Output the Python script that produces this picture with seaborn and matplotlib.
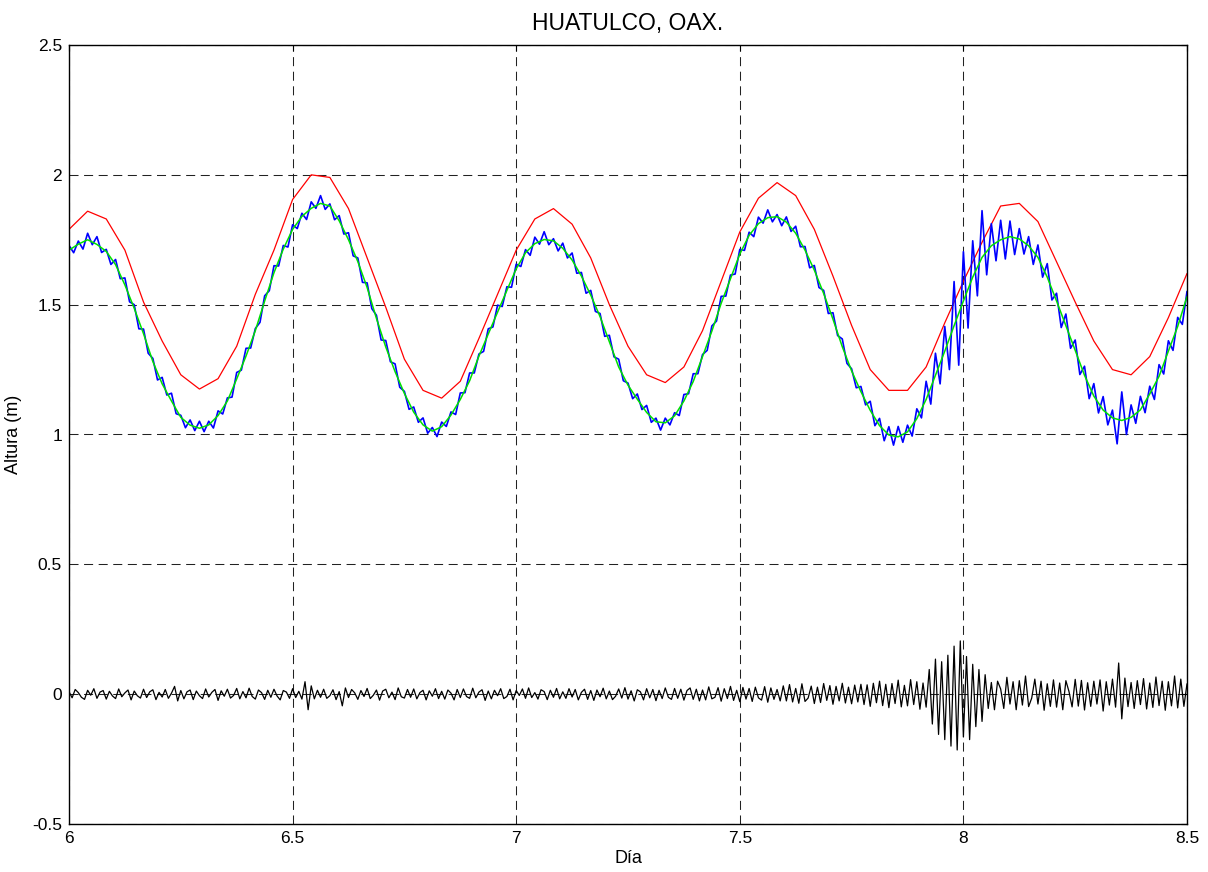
import numpy as np
import matplotlib
matplotlib.use("Agg")
import matplotlib.pyplot as plt
import seaborn as sns
from matplotlib.ticker import FuncFormatter, MultipleLocator

# marea prevista (roja), un valor por hora desde el dia 6.0 hasta el 8.5
prevista = [1.79, 1.86, 1.83, 1.71, 1.51, 1.36, 1.23, 1.175, 1.215, 1.34,
            1.54, 1.71, 1.905, 2.00, 1.99, 1.87, 1.68, 1.49, 1.29, 1.17,
            1.14, 1.205, 1.37, 1.54, 1.71, 1.83, 1.87, 1.81, 1.68, 1.50,
            1.34, 1.23, 1.20, 1.26, 1.40, 1.59, 1.78, 1.91, 1.97, 1.92,
            1.79, 1.61, 1.42, 1.25, 1.17, 1.17, 1.26, 1.43, 1.59, 1.74,
            1.88, 1.89, 1.82, 1.665, 1.51, 1.36, 1.25, 1.23, 1.30, 1.45, 1.62]

# nivel filtrado (verde), cada media hora
filtrada = [1.71, 1.733, 1.75, 1.732, 1.705, 1.654, 1.576, 1.486, 1.388, 1.281,
            1.195, 1.129, 1.066, 1.036, 1.024, 1.037, 1.073, 1.129, 1.214, 1.302,
            1.40, 1.514, 1.623, 1.714, 1.79, 1.84, 1.871, 1.89, 1.88, 1.823,
            1.75, 1.666, 1.566, 1.447, 1.337, 1.242, 1.158, 1.086, 1.037, 1.013,
            1.03, 1.075, 1.135, 1.207, 1.302, 1.387, 1.471, 1.555, 1.638, 1.70,
            1.735, 1.751, 1.746, 1.717, 1.672, 1.61, 1.537, 1.454, 1.357, 1.26,
            1.19, 1.136, 1.085, 1.049, 1.045, 1.072, 1.129, 1.204, 1.30, 1.398,
            1.505, 1.60, 1.695, 1.767, 1.812, 1.835, 1.839, 1.818, 1.775, 1.71,
            1.633, 1.543, 1.444, 1.338, 1.245, 1.165, 1.093, 1.034, 0.998, 0.991,
            1.01, 1.061, 1.135, 1.228, 1.321, 1.419, 1.514, 1.606, 1.682, 1.727,
            1.75, 1.762, 1.753, 1.727, 1.682, 1.606, 1.514, 1.419, 1.324, 1.228,
            1.148, 1.094, 1.064, 1.054, 1.066, 1.095, 1.156, 1.224, 1.321, 1.416,
            1.531]

# nivel observado (azul), cada 15 minutos
observada = [1.728, 1.700, 1.745, 1.714, 1.775, 1.731, 1.762, 1.701, 1.713, 1.655,
             1.674, 1.600, 1.603, 1.511, 1.500, 1.407, 1.406, 1.313, 1.293, 1.210,
             1.220, 1.152, 1.159, 1.080, 1.074, 1.026, 1.056, 1.015, 1.051, 1.011,
             1.051, 1.025, 1.091, 1.079, 1.141, 1.144, 1.239, 1.248, 1.332, 1.333,
             1.408, 1.432, 1.534, 1.554, 1.650, 1.649, 1.728, 1.722, 1.808, 1.793,
             1.852, 1.828, 1.896, 1.871, 1.920, 1.867, 1.888, 1.827, 1.843, 1.772,
             1.777, 1.688, 1.680, 1.586, 1.584, 1.485, 1.459, 1.364, 1.362, 1.280,
             1.272, 1.182, 1.166, 1.097, 1.106, 1.047, 1.064, 1.005, 1.027, 0.992,
             1.048, 1.031, 1.087, 1.077, 1.160, 1.161, 1.237, 1.237, 1.310, 1.320,
             1.407, 1.414, 1.498, 1.493, 1.569, 1.567, 1.656, 1.647, 1.712, 1.690,
             1.760, 1.733, 1.781, 1.731, 1.754, 1.707, 1.737, 1.680, 1.699, 1.621,
             1.624, 1.544, 1.555, 1.474, 1.466, 1.378, 1.382, 1.299, 1.290, 1.207,
             1.198, 1.138, 1.156, 1.096, 1.112, 1.047, 1.063, 1.017, 1.063, 1.037,
             1.084, 1.073, 1.154, 1.157, 1.234, 1.234, 1.308, 1.324, 1.418, 1.437,
             1.532, 1.533, 1.614, 1.618, 1.713, 1.709, 1.779, 1.762, 1.837, 1.814,
             1.865, 1.819, 1.847, 1.804, 1.838, 1.782, 1.802, 1.723, 1.724, 1.642,
             1.651, 1.566, 1.555, 1.466, 1.469, 1.381, 1.368, 1.274, 1.253, 1.180,
             1.185, 1.114, 1.128, 1.034, 1.062, 0.976, 1.030, 0.959, 1.031, 0.970,
             1.036, 0.994, 1.099, 1.064, 1.205, 1.117, 1.313, 1.195, 1.416, 1.250,
             1.589, 1.267, 1.704, 1.410, 1.746, 1.534, 1.862, 1.615, 1.812, 1.669,
             1.825, 1.676, 1.822, 1.693, 1.793, 1.695, 1.762, 1.655, 1.730, 1.606,
             1.658, 1.518, 1.544, 1.412, 1.464, 1.332, 1.364, 1.231, 1.263, 1.138,
             1.196, 1.083, 1.146, 1.037, 1.094, 0.964, 1.164, 1.000, 1.114, 1.043,
             1.147, 1.084, 1.186, 1.135, 1.269, 1.233, 1.361, 1.324, 1.451, 1.424,
             1.551]

# residuo (negro), cada 10 minutos
residuo = [0.010, -0.014, 0.018, 0.006, -0.012, -0.020, 0.015, -0.004, 0.021, -0.016,
           0.008, 0.014, -0.019, 0.011, -0.007, -0.017, 0.020, -0.010, 0.005, 0.016,
           -0.022, 0.012, -0.006, -0.015, 0.019, -0.013, 0.009, 0.017, -0.021, 0.007,
           -0.011, 0.018, -0.016, 0.004, 0.030, -0.026,
           0.014, -0.018, 0.009, 0.016, -0.021, 0.012, -0.006, -0.017, 0.020, -0.011,
           0.007, 0.018, -0.024, 0.013, -0.008, 0.019, -0.015, -0.005, 0.022, -0.018,
           0.010, -0.014, 0.023, -0.009, -0.019, 0.016, 0.006, -0.020, 0.015, -0.012,
           0.019, -0.007, -0.022, 0.014, 0.008, -0.016, 0.021, -0.013, 0.011, -0.019,
           0.048, -0.060, 0.032, -0.018,
           0.015, -0.012, 0.019, -0.016, -0.006, 0.017, -0.021, 0.010, -0.045, 0.024,
           -0.013, 0.018, 0.005, -0.020, 0.014, -0.009, 0.022, -0.017, -0.004, 0.016,
           -0.023, 0.012, 0.019, -0.014, 0.008, -0.021, 0.024, -0.010, -0.015, 0.018,
           -0.012, 0.020, -0.018, 0.006, 0.015, -0.022, 0.013, -0.008, 0.021, -0.017,
           0.011, -0.019, 0.016, 0.004, -0.022, 0.018, -0.013, 0.020, -0.009, -0.016,
           0.023, -0.014, 0.008, 0.017, -0.024, 0.012, -0.018, 0.015, -0.006, 0.021,
           -0.017, -0.009, 0.019, -0.022, 0.014, -0.005, 0.020, -0.016, 0.024, -0.013,
           0.006, -0.019, 0.017, 0.010, -0.021, 0.015, -0.012, 0.022, -0.018, 0.009,
           -0.016, 0.021, -0.011, 0.018, -0.022, 0.007, 0.019, -0.020, 0.014, -0.024,
           0.016, -0.010, 0.023, -0.018, 0.012, -0.021, -0.008, 0.020, -0.015, 0.025,
           -0.019, 0.013, -0.026, 0.017, 0.009, -0.022, 0.021, -0.014, 0.018, -0.025,
           0.015, -0.017, 0.024, -0.012, -0.020, 0.022, -0.016, 0.019, -0.023, 0.014,
           0.024, -0.020, 0.019, -0.026, 0.016, -0.022, 0.028, -0.018, -0.012, 0.025,
           -0.027, 0.021, -0.017, 0.030, -0.024, 0.015, -0.029, 0.026, -0.019, 0.022,
           -0.028, 0.027, -0.014, -0.023, 0.029, -0.031, 0.024, -0.020, 0.018, -0.026,
           0.032, -0.026, 0.037, -0.030, 0.022, -0.035, 0.040, -0.028, -0.015, 0.031,
           -0.036, 0.027, -0.032, 0.041, -0.024, 0.033, -0.039, 0.030, -0.026, 0.042,
           -0.034, 0.027, -0.037, 0.035, -0.030, 0.038,
           -0.040, 0.036, -0.047, 0.042, -0.033, 0.050, -0.044, 0.038, -0.052, 0.041,
           -0.036, 0.054, -0.049, 0.034, -0.045, 0.056, -0.040, 0.048, -0.058, 0.043, -0.050,
           0.095, -0.115, 0.135, -0.155, 0.125, -0.175, 0.150, -0.200, 0.185, -0.215, 0.205,
           -0.165, 0.145, -0.175, 0.115, -0.125, 0.095, -0.105, 0.075,
           -0.055, 0.045, -0.060, 0.050, 0.020, -0.055, 0.065, -0.038, 0.048, -0.060,
           0.052, -0.042, 0.070, -0.048, -0.015, 0.058, -0.038, 0.050, -0.062, 0.040,
           -0.047, 0.055, -0.050, 0.043, -0.060, 0.052, 0.010, -0.049, 0.057, -0.046,
           0.053, -0.061, 0.044, -0.047, 0.050, -0.038, 0.055, -0.065, 0.048, -0.042,
           0.058, -0.050, 0.120, -0.095, 0.062, -0.048, 0.045, -0.055, 0.052, -0.040,
           0.060, -0.057, 0.043, -0.051, 0.066, -0.044, 0.050, -0.062, 0.048, -0.045,
           0.070, -0.053, 0.058, -0.047, 0.040]

dia_inicio = 6

# eje de tiempo en dias segun el intervalo de muestreo de cada serie
t_prev = dia_inicio + np.arange(len(prevista)) / 24
t_filt = dia_inicio + np.arange(len(filtrada)) / 48
t_obs = dia_inicio + np.arange(len(observada)) / 96
t_res = dia_inicio + np.arange(len(residuo)) / 144

sns.set_style("white")
plt.rcParams['font.family'] = ['Liberation Sans', 'DejaVu Sans']
plt.rcParams['lines.scale_dashes'] = False
plt.rcParams['text.color'] = 'black'
plt.rcParams['axes.labelcolor'] = 'black'

fig = plt.figure(figsize=(12.08, 8.72), dpi=100)
ax = fig.add_axes([69 / 1208, 1 - 824 / 872, (1187 - 69) / 1208, (824 - 45) / 872])

sns.lineplot(x=t_prev, y=prevista, color='#ff0000', linewidth=0.9, ax=ax)
sns.lineplot(x=t_obs, y=observada, color='#0000ff', linewidth=1.2, ax=ax)
sns.lineplot(x=t_filt, y=filtrada, color='#00e000', linewidth=1.1, ax=ax)
sns.lineplot(x=t_res, y=residuo, color='black', linewidth=0.9, ax=ax)

ax.set_xlim(6, 8.5)
ax.set_ylim(-0.5, 2.5)
ax.xaxis.set_major_locator(MultipleLocator(0.5))
ax.yaxis.set_major_locator(MultipleLocator(0.5))
formato = FuncFormatter(lambda v, p: '%g' % v)
ax.xaxis.set_major_formatter(formato)
ax.yaxis.set_major_formatter(formato)

# rejilla punteada estilo matlab
ax.grid(True, color='#222222', linestyle=(0, (6.5, 4)), linewidth=0.75)
ax.set_axisbelow(True)

for s in ax.spines.values():
    s.set_color('black')
    s.set_linewidth(1.0)

ax.tick_params(direction='in', length=4, width=0.8, top=True, right=True,
               labelsize=12.5, pad=5, colors='black')

ax.set_title('HUATULCO, OAX.', fontsize=16.5, pad=11, color='black')
ax.set_xlabel('Día', fontsize=13, labelpad=3, color='black')
ax.set_ylabel('Altura (m)', fontsize=13, labelpad=7, color='black')

plt.savefig('out.png', dpi=100)
